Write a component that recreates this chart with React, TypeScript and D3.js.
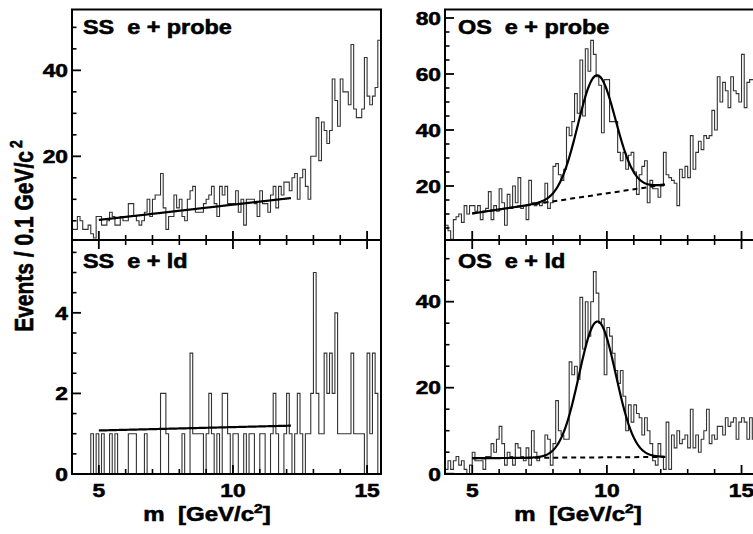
import React from 'react';
import * as d3 from 'd3';

// ---------- data ----------
const BIN_LOW = 4.0;
const BIN_WIDTH = 0.1;
const X_DOMAIN = [4, 15.5];
const X_MAJOR_TICKS = [5, 10, 15];

// SS e + probe (events per bin, bins of 0.1 GeV from 4.0)
const ssProbe = [
  3, 3, 6, 5, 3, 3, 4, 2, 1, 6,
  6, 4, 4, 5, 7, 6, 4, 4, 6, 5,
  5, 9, 9, 6, 5, 4, 5, 7, 10, 6,
  10, 11, 11, 16, 8, 3, 6, 6, 11, 8,
  10, 6, 5, 10, 12, 13, 7, 7, 7, 9,
  10, 11, 13, 9, 6, 13, 11, 13, 9, 9,
  9, 12, 7, 10, 4, 10, 10, 10, 9, 6,
  12, 9, 9, 7, 11, 13, 8, 13, 11, 14,
  14, 12, 15, 16, 10, 15, 17, 13, 10, 20,
  20, 29, 19, 28, 26, 23, 26, 38, 33, 27,
  38, 35, 35, 32, 46, 31, 29, 29, 31, 43,
  34, 32, 34, 36, 47,
];

// OS e + probe
const osProbe = [
  6, 4, 1, 8, 9, 10, 7, 13, 10, 13,
  13, 11, 13, 8, 11, 12, 18, 8, 13, 11,
  19, 14, 6, 17, 12, 20, 14, 23, 12, 13,
  8, 22, 14, 13, 14, 13, 14, 21, 12, 14,
  27, 28, 24, 22, 26, 41, 38, 43, 53, 46,
  65, 45, 69, 61, 72, 67, 59, 56, 39, 58,
  58, 43, 43, 43, 32, 29, 32, 26, 31, 32,
  25, 17, 24, 27, 29, 14, 22, 19, 19, 16,
  20, 32, 24, 23, 22, 21, 13, 26, 23, 27,
  23, 38, 26, 32, 36, 33, 38, 37, 38, 47,
  40, 59, 50, 57, 54, 48, 59, 54, 53, 50,
  67, 48, 57, 58, 58,
];

// SS e + ld
const ssLd = [
  0, 0, 0, 0, 0, 0, 0, 1, 0, 1,
  0, 1, 0, 0, 1, 0, 1, 0, 0, 0,
  0, 1, 1, 1, 0, 0, 0, 1, 0, 0,
  0, 0, 0, 2, 2, 1, 0, 0, 0, 0,
  0, 1, 0, 0, 3, 1, 1, 1, 1, 0,
  1, 2, 1, 0, 1, 0, 2, 2, 1, 0,
  1, 1, 0, 0, 1, 0, 1, 1, 0, 0,
  1, 1, 0, 0, 1, 2, 1, 0, 0, 1,
  2, 1, 0, 1, 2, 1, 0, 1, 1, 2,
  5, 2, 1, 1, 3, 2, 3, 2, 4, 1,
  1, 1, 1, 1, 3, 1, 1, 1, 1, 0,
  3, 1, 3, 2, 0,
];

// OS e + ld
const osLd = [
  1, 3, 1, 3, 4, 2, 3, 1, 0, 2,
  5, 3, 3, 3, 1, 4, 4, 7, 5, 8,
  11, 7, 2, 5, 4, 2, 7, 6, 4, 3,
  6, 2, 10, 5, 3, 4, 4, 9, 8, 2,
  7, 17, 10, 9, 8, 8, 26, 23, 25, 22,
  41, 29, 40, 32, 40, 47, 42, 35, 36, 23,
  34, 32, 28, 24, 21, 24, 18, 10, 16, 12,
  16, 14, 13, 9, 13, 10, 7, 3, 2, 7,
  4, 1, 12, 1, 9, 6, 10, 7, 8, 9,
  6, 15, 6, 9, 5, 8, 10, 15, 7, 9,
  8, 11, 11, 9, 13, 11, 12, 13, 8, 12,
  13, 12, 8, 13, 8,
];

// fit parameters: linear background (value at start / end) + gaussian
const FIT_RANGE = [5.0, 12.17];
const ssProbeBkg = [5.2, 10.3];
const osProbeBkg = [10.2, 20.5];
const osProbeGauss = { amp: 42.7, mean: 9.62, sigma: 0.7 };
const ssLdBkg = [1.08, 1.2];
const osLdBkg = [3.6, 3.9];
const osLdGauss = { amp: 31.6, mean: 9.65, sigma: 0.685 };

// tick labels
const tlYLabels = [20, 40];
const trYLabels = [20, 40, 60, 80];
const blYLabels = [0, 2, 4];
const brYLabels = [0, 20, 40];

// ---------- layout ----------
const FONT = "'Liberation Sans', Arial, Helvetica, sans-serif";
const SX = 1.2;

type Panel = {
  id: string;
  title: string;
  data: number[];
  xRange: [number, number];
  frame: { x0: number; x1: number; y0: number; y1: number };
  yDomain: [number, number];
  yRange: [number, number];
  minorStep: number;
  labels: number[];
  bkg: number[];
  gauss?: { amp: number; mean: number; sigma: number };
  dashed: boolean;
  titlePos: [number, number];
  topTicks: boolean;
};

const LEFT_X: [number, number] = [72, 380.5];
const RIGHT_X: [number, number] = [445.3, 755];

const panels: Panel[] = [
  {
    id: 'tl', title: 'SS  e + probe', data: ssProbe, xRange: LEFT_X,
    frame: { x0: 72, x1: 381, y0: 9.5, y1: 240 },
    yDomain: [0, 54.2], yRange: [242.3, 9.3], minorStep: 5, labels: tlYLabels,
    bkg: ssProbeBkg, dashed: false, titlePos: [83, 33.5], topTicks: false,
  },
  {
    id: 'tr', title: 'OS  e + probe', data: osProbe, xRange: RIGHT_X,
    frame: { x0: 445, x1: 756, y0: 9.5, y1: 240 },
    yDomain: [0, 83], yRange: [242, 9.6], minorStep: 5, labels: trYLabels,
    bkg: osProbeBkg, gauss: osProbeGauss, dashed: true, titlePos: [458, 34], topTicks: false,
  },
  {
    id: 'bl', title: 'SS  e + ld', data: ssLd, xRange: LEFT_X,
    frame: { x0: 72, x1: 381, y0: 240, y1: 474 },
    yDomain: [0, 5.8], yRange: [474, 240.3], minorStep: 0.5, labels: blYLabels,
    bkg: ssLdBkg, dashed: false, titlePos: [83, 267.5], topTicks: true,
  },
  {
    id: 'br', title: 'OS  e + ld', data: osLd, xRange: RIGHT_X,
    frame: { x0: 445, x1: 756, y0: 240, y1: 474 },
    yDomain: [0, 54.3], yRange: [473.7, 240.2], minorStep: 5, labels: brYLabels,
    bkg: osLdBkg, gauss: osLdGauss, dashed: true, titlePos: [458, 267.5], topTicks: true,
  },
];

function STextEl(props: {
  x: number; y: number; size: number; anchor?: string; children: React.ReactNode; rotate?: boolean;
}) {
  const { x, y, size, anchor = 'start', children, rotate } = props;
  return (
    <text
      transform={`translate(${x},${y}) scale(${SX},1)${rotate ? ' rotate(-90)' : ''}`}
      fontFamily={FONT}
      fontWeight="bold"
      fontSize={size}
      textAnchor={anchor}
      fill="#000"
      stroke="#000"
      strokeWidth={0.55}
      style={{ whiteSpace: 'pre' }}
    >
      {children}
    </text>
  );
}

function PanelView({ p }: { p: Panel }) {
  const x = d3.scaleLinear().domain(X_DOMAIN).range(p.xRange);
  const y = d3.scaleLinear().domain(p.yDomain).range(p.yRange);
  const { x0, x1, y0, y1 } = p.frame;

  // histogram steps
  const pts: [number, number][] = [];
  p.data.forEach((v, i) => {
    const lo = BIN_LOW + i * BIN_WIDTH;
    const hi = lo + BIN_WIDTH;
    pts.push([x(lo), y(v)]);
    pts.push([x(hi), y(v)]);
  });
  const line = d3.line<[number, number]>();
  const histPath = line(pts) || '';

  // fit curves
  const bkgAt = (m: number) =>
    p.bkg[0] + ((p.bkg[1] - p.bkg[0]) * (m - FIT_RANGE[0])) / (FIT_RANGE[1] - FIT_RANGE[0]);
  const fitAt = (m: number) => {
    let v = bkgAt(m);
    if (p.gauss) {
      const g = p.gauss;
      v += g.amp * Math.exp(-((m - g.mean) ** 2) / (2 * g.sigma * g.sigma));
    }
    return v;
  };
  const ms = d3.range(FIT_RANGE[0], FIT_RANGE[1] + 1e-9, 0.02);
  const fitPath = line(ms.map((m) => [x(m), y(fitAt(m))] as [number, number])) || '';
  const bkgPath = line([
    [x(FIT_RANGE[0]), y(bkgAt(FIT_RANGE[0]))],
    [x(FIT_RANGE[1]), y(bkgAt(FIT_RANGE[1]))],
  ]) || '';

  // ticks
  const yMinor = d3.range(0, p.yDomain[1] + 1e-9, p.minorStep).filter((v) => !p.labels.includes(v));
  const xMinor = d3.range(5, 16, 1).filter((v) => !X_MAJOR_TICKS.includes(v));
  const inY = (py: number) => py >= y0 - 0.5 && py <= y1 + 0.5;

  const clipId = `clip-${p.id}`;
  const labelX = x0 - 4;

  return (
    <g>
      <defs>
        <clipPath id={clipId}>
          <rect x={x0} y={y0} width={x1 - x0} height={y1 - y0} />
        </clipPath>
      </defs>
      <g clipPath={`url(#${clipId})`}>
        <path d={histPath} fill="none" stroke="#333" strokeWidth={1.1} />
        {p.dashed && (
          <path d={bkgPath} fill="none" stroke="#000" strokeWidth={2} strokeDasharray="5 4" />
        )}
        <path d={fitPath} fill="none" stroke="#000" strokeWidth={2.2} />
      </g>
      {/* y ticks */}
      {p.labels.map((v) =>
        inY(y(v)) ? (
          <line key={`ym${v}`} x1={x0} x2={x0 + 9} y1={y(v)} y2={y(v)} stroke="#000" strokeWidth={1.8} />
        ) : null,
      )}
      {yMinor.map((v) =>
        inY(y(v)) ? (
          <line key={`yn${v}`} x1={x0} x2={x0 + 4.5} y1={y(v)} y2={y(v)} stroke="#000" strokeWidth={1.6} />
        ) : null,
      )}
      {/* x ticks bottom */}
      {X_MAJOR_TICKS.map((v) => (
        <line key={`xb${v}`} x1={x(v)} x2={x(v)} y1={y1} y2={y1 - 9} stroke="#000" strokeWidth={1.8} />
      ))}
      {xMinor.map((v) => (
        <line key={`xbn${v}`} x1={x(v)} x2={x(v)} y1={y1} y2={y1 - 5} stroke="#000" strokeWidth={1.6} />
      ))}
      {p.topTicks &&
        X_MAJOR_TICKS.map((v) => (
          <line key={`xt${v}`} x1={x(v)} x2={x(v)} y1={y0} y2={y0 + 9} stroke="#000" strokeWidth={1.8} />
        ))}
      {p.topTicks &&
        xMinor.map((v) => (
          <line key={`xtn${v}`} x1={x(v)} x2={x(v)} y1={y0} y2={y0 + 5} stroke="#000" strokeWidth={1.6} />
        ))}
      {/* frame */}
      <rect x={x0} y={y0} width={x1 - x0} height={y1 - y0} fill="none" stroke="#000" strokeWidth={2} />
      {/* y labels */}
      {p.labels.map((v) => (
        <STextEl key={`yl${v}`} x={labelX} y={y(v) + 6.8} size={19} anchor="end">
          {String(v)}
        </STextEl>
      ))}
      {/* title */}
      <STextEl x={p.titlePos[0]} y={p.titlePos[1]} size={19.5}>
        {p.title}
      </STextEl>
    </g>
  );
}

export default function App() {
  const xl = d3.scaleLinear().domain(X_DOMAIN).range(LEFT_X);
  const xr = d3.scaleLinear().domain(X_DOMAIN).range(RIGHT_X);
  return (
    <svg
      width={753}
      height={534}
      viewBox="0 0 753 534"
      style={{ position: 'absolute', left: 0, top: 0, background: '#fff' }}
    >
      <rect x={0} y={0} width={753} height={534} fill="#fff" />
      {panels.map((p) => (
        <PanelView key={p.id} p={p} />
      ))}
      {/* x tick labels */}
      {X_MAJOR_TICKS.map((v) => (
        <STextEl key={`lx${v}`} x={xl(v)} y={497} size={19} anchor="middle">
          {String(v)}
        </STextEl>
      ))}
      {X_MAJOR_TICKS.map((v) => (
        <STextEl key={`rx${v}`} x={xr(v)} y={497} size={19} anchor="middle">
          {String(v)}
        </STextEl>
      ))}
      {/* x titles */}
      {[207, 578].map((cx) => (
        <STextEl key={`xt${cx}`} x={cx} y={521} size={20} anchor="middle">
          {'m  [GeV/c'}
          <tspan fontSize={13} dy={-8}>2</tspan>
          <tspan dy={8}>]</tspan>
        </STextEl>
      ))}
      {/* y title */}
      <STextEl x={33} y={236} size={21} anchor="middle" rotate>
        {'Events / 0.1 GeV/c'}
        <tspan fontSize={14} dx={3} dy={-9}>2</tspan>
      </STextEl>
    </svg>
  );
}
